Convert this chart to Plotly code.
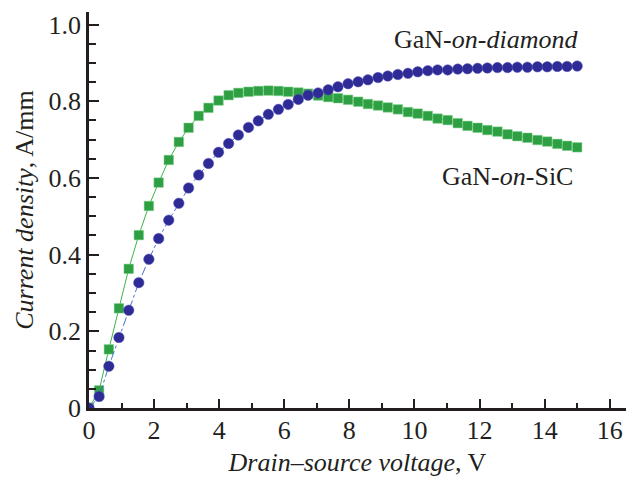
import plotly.graph_objects as go

voltage = [0, 0.31, 0.61, 0.92, 1.22, 1.53, 1.84, 2.14, 2.45, 2.76, 3.06, 3.37, 3.67, 3.98,
           4.29, 4.59, 4.90, 5.20, 5.51, 5.82, 6.12, 6.43, 6.73, 7.04, 7.35, 7.65, 7.96, 8.27,
           8.57, 8.88, 9.18, 9.49, 9.80, 10.10, 10.41, 10.71, 11.02, 11.33, 11.63, 11.94,
           12.24, 12.55, 12.86, 13.16, 13.47, 13.78, 14.08, 14.39, 14.69, 15.0]

gan_diamond = [0, 0.03, 0.109, 0.184, 0.255, 0.327, 0.388, 0.442, 0.49, 0.534, 0.574, 0.608,
               0.638, 0.667, 0.69, 0.712, 0.732, 0.749, 0.766, 0.779, 0.792, 0.805, 0.816,
               0.822, 0.83, 0.838, 0.846, 0.851, 0.856, 0.862, 0.866, 0.87, 0.873, 0.877,
               0.88, 0.882, 0.882, 0.884, 0.885, 0.886, 0.887, 0.888, 0.888, 0.889, 0.889,
               0.89, 0.89, 0.891, 0.891, 0.892]

gan_sic = [0, 0.046, 0.153, 0.26, 0.363, 0.451, 0.527, 0.588, 0.647, 0.694, 0.731, 0.762,
           0.783, 0.802, 0.816, 0.822, 0.825, 0.827, 0.828, 0.827, 0.825, 0.823, 0.82,
           0.815, 0.811, 0.808, 0.804, 0.799, 0.793, 0.789, 0.784, 0.779, 0.772, 0.768,
           0.762, 0.755, 0.751, 0.743, 0.736, 0.731, 0.725, 0.721, 0.714, 0.709, 0.705,
           0.699, 0.695, 0.689, 0.684, 0.68]

y_tickvals = [0, 0.2, 0.4, 0.6, 0.8, 1.0]
y_ticktext = ["0", "0.2", "0.4", "0.6", "0.8", "1.0"]
x_tickvals = [0, 2, 4, 6, 8, 10, 12, 14, 16]
x_ticktext = ["0", "2", "4", "6", "8", "10", "12", "14", "16"]

FONT = "Liberation Serif"
FS = 26
AX = "#231f20"

fig = go.Figure()
fig.add_trace(go.Scatter(
    x=voltage, y=gan_sic, mode="lines+markers", name="GaN-on-SiC",
    line=dict(color="#3cb44b", width=1),
    marker=dict(symbol="square", size=9.5, color="#2ea043",
                line=dict(color="#7fd08a", width=0.5)),
))
fig.add_trace(go.Scatter(
    x=voltage, y=gan_diamond, mode="lines+markers", name="GaN-on-diamond",
    line=dict(color="#4a70d0", width=1, dash="dashdot"),
    marker=dict(symbol="circle", size=10.5, color="#2e2a96",
                line=dict(color="#5a58b8", width=0.5)),
))

fig.add_annotation(x=12.19, y=0.96, xref="x", yref="y", text="GaN-<i>on-diamond</i>",
                   showarrow=False, font=dict(family=FONT, size=FS, color=AX))
fig.add_annotation(x=12.87, y=0.605, xref="x", yref="y", text="GaN-<i>on</i>-SiC",
                   showarrow=False, font=dict(family=FONT, size=FS, color=AX))

fig.update_layout(
    width=628, height=477,
    margin=dict(l=89, r=2, t=12, b=69),
    paper_bgcolor="white", plot_bgcolor="white",
    showlegend=False,
    font=dict(family=FONT, size=FS, color=AX),
)
fig.update_xaxes(
    range=[0, 16.5], showline=True, linecolor=AX, linewidth=2.5,
    showgrid=False, zeroline=False, automargin=False,
    tickvals=x_tickvals, ticktext=x_ticktext,
    ticks="inside", ticklen=9, tickwidth=1.5, tickcolor=AX,
    ticklabelstandoff=-3,
    minor=dict(dtick=1, tick0=0, ticks="inside", ticklen=5, tickwidth=1.5, tickcolor=AX),
    tickfont=dict(family=FONT, size=FS, color=AX),
    title=dict(text="<i>Drain–source voltage</i>, V", font=dict(family=FONT, size=FS, color=AX),
               standoff=15),
)
fig.update_yaxes(
    range=[0, 1.033], showline=True, linecolor=AX, linewidth=2.5,
    showgrid=False, zeroline=False, automargin=False,
    tickvals=y_tickvals, ticktext=y_ticktext,
    ticks="inside", ticklen=10, tickwidth=1.5, tickcolor=AX,
    ticklabelstandoff=0,
    minor=dict(dtick=0.05, tick0=0, ticks="inside", ticklen=7, tickwidth=1.5, tickcolor=AX),
    tickfont=dict(family=FONT, size=FS, color=AX),
    title=dict(text="<i>Current density</i>, A/mm", font=dict(family=FONT, size=FS, color=AX),
               standoff=8),
)

fig.write_html(
    "out.html",
    config={"displayModeBar": False},
    post_script="document.body.style.margin='0';document.body.style.overflow='hidden';"
                "document.documentElement.style.overflow='hidden';",
)
